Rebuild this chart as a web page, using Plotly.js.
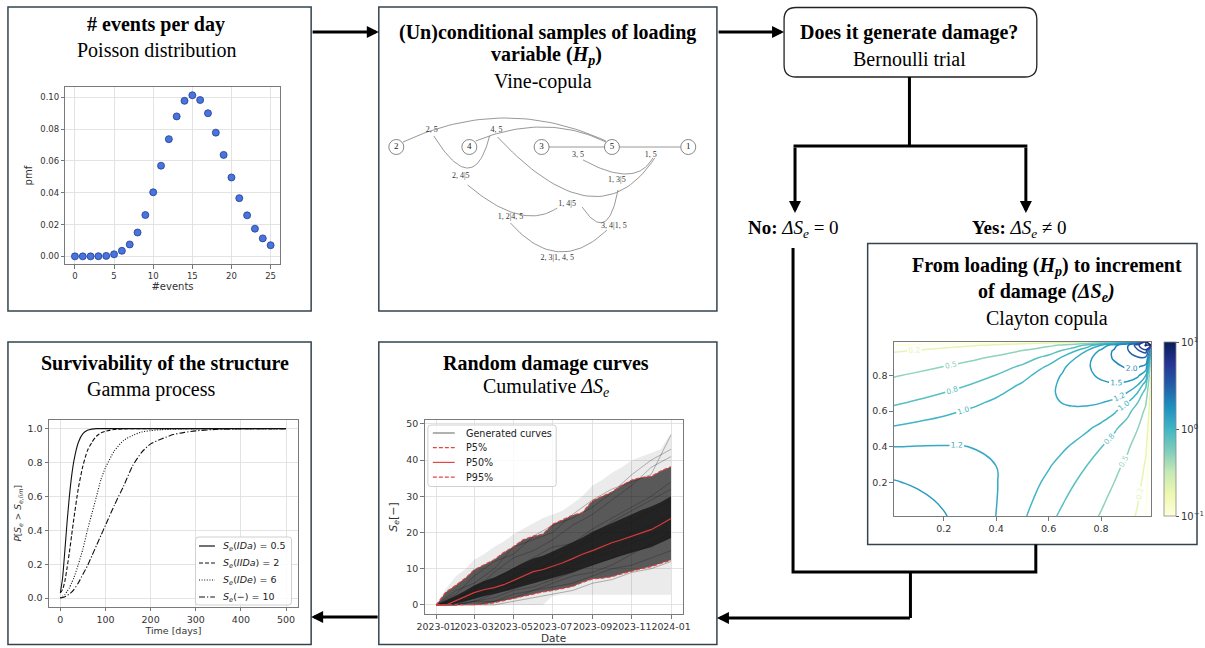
<!DOCTYPE html>
<html>
<head>
<meta charset="utf-8">
<script src="https://cdn.plot.ly/plotly-3.0.1.min.js"></script>
<style>
  html, body { margin: 0; padding: 0; background: #ffffff; }
  #fig { width: 1205px; height: 648px; }
</style>
</head>
<body>
<div id="fig"></div>
<script>
// ---------------- data ----------------
// Poisson pmf of the number of events per day
const poissonK = [0,1,2,3,4,5,6,7,8,9,10,11,12,13,14,15,16,17,18,19,20,21,22,23,24,25];
const poissonPmf = [0.0000,0.0000,0.0000,0.0001,0.0003,0.0013,0.0035,0.0075,0.0150,0.0260,0.0403,0.0570,0.0737,0.0880,0.0978,0.1013,0.0983,0.0900,0.0778,0.0638,0.0496,0.0366,0.0258,0.0174,0.0113,0.0070];

// Vine-copula structure (layout units inside the panel)
const vineNodeNames = ['2','4','3','5','1'];
const vineNodeX = [17.3, 90.7, 163.3, 234, 310.7];
const vineNodeY = [142, 142, 142, 142, 142];
const vineEdgeLabels = ['2, 5','4, 5','3, 5','1, 5','2, 4|5','1, 3|5','1, 4|5','1, 2|4, 5','3, 4|1, 5','2, 3|1, 4, 5'];
const vineLabelX = [53, 118, 200, 273, 82, 239, 189, 132, 236, 179];
const vineLabelY = [125, 125, 150, 150, 171, 175, 199, 212, 221, 253];
// each edge: start point, bezier control point, end point
const vineEdges = [
  [24,137, 126,89.5, 228,136],
  [97,136, 167,107.5, 228,137],
  [170,142, 198.5,142, 227,142],
  [241,142, 272,142, 303,142],
  [55,131, 95,195, 111,131],
  [205,155, 258,184, 275,153],
  [119,132, 220,239.5, 277,153],
  [89,180, 144,226.5, 179,203],
  [204,202, 230,240.5, 240,185],
  [132,218, 180,272, 229,225]
];

// Clayton copula density on a grid (upper triangle of a symmetric table)
const claytonGrid = [0.01,0.1,0.2,0.3,0.4,0.5,0.6,0.65,0.7,0.75,0.8,0.85,0.9,0.94,0.97,0.99];
const claytonTri = [
  [1.830,1.677,1.521,1.361,1.198,1.029,0.855,0.766,0.674,0.579,0.481,0.379,0.271,0.177,0.0996,0.0105],
  [1.571,1.458,1.337,1.205,1.063,0.907,0.823,0.735,0.641,0.541,0.433,0.314,0.209,0.119,0.0128],
  [1.386,1.303,1.207,1.094,0.962,0.887,0.804,0.713,0.613,0.500,0.370,0.250,0.145,0.0158],
  [1.259,1.199,1.121,1.018,0.955,0.883,0.798,0.700,0.584,0.443,0.306,0.180,0.0202],
  [1.178,1.139,1.074,1.029,0.971,0.899,0.808,0.692,0.542,0.385,0.232,0.0268],
  [1.144,1.126,1.104,1.069,1.017,0.942,0.835,0.679,0.499,0.310,0.0374],
  [1.165,1.174,1.173,1.155,1.111,1.028,0.879,0.678,0.440,0.0563],
  [1.203,1.224,1.229,1.211,1.150,1.015,0.807,0.539,0.0718],
  [1.270,1.306,1.321,1.295,1.187,0.980,0.678,0.0953],
  [1.379,1.439,1.465,1.407,1.219,0.882,0.126],
  [1.559,1.662,1.694,1.561,1.202,0.190],
  [1.878,2.068,2.077,1.748,0.316],
  [2.539,2.894,2.810,0.640],
  [3.879,4.599,1.530],
  [7.228,4.744],
  [100.0]
];
const claytonLevels = [0.1,0.2,0.5,0.8,1.0,1.2,1.5,2.0,3.0,4.0,5.0,7.0,10.0];
const claytonLabelled = [false,true,true,true,true,true,true,true,true,false,false,false,false];

// Survival probability of the gamma process
const survT = [0,5,10,15,20,25,30,40,50,60,70,80,90,100,120,140,160,180,200,225,250,275,300,350,400,500];
const survIDa = [0.03,0.12,0.28,0.45,0.60,0.72,0.81,0.92,0.97,0.99,0.997,1,1,1,1,1,1,1,1,1,1,1,1,1,1,1];
const survIIDa = [0.03,0.05,0.10,0.18,0.27,0.37,0.47,0.65,0.78,0.87,0.92,0.955,0.975,0.985,0.995,0.998,1,1,1,1,1,1,1,1,1,1];
const survIDe = [0,0.01,0.02,0.04,0.06,0.09,0.12,0.20,0.29,0.40,0.50,0.60,0.70,0.77,0.87,0.93,0.96,0.98,0.988,0.994,0.997,0.999,1,1,1,1];
const survNone = [0,0.003,0.008,0.015,0.025,0.035,0.05,0.09,0.14,0.19,0.25,0.31,0.37,0.43,0.55,0.66,0.78,0.86,0.91,0.94,0.965,0.978,0.987,0.996,0.999,1];
const survNames = ['<i>S</i><sub><i>e</i></sub>(<i>IDa</i>) = 0.5','<i>S</i><sub><i>e</i></sub>(<i>IIDa</i>) = 2','<i>S</i><sub><i>e</i></sub>(<i>IDe</i>) = 6','<i>S</i><sub><i>e</i></sub>(−) = 10'];

// Cumulative damage curves
const halfMonths = ['2023-01-01','2023-01-16','2023-02-01','2023-02-16','2023-03-01','2023-03-16','2023-04-01','2023-04-16','2023-05-01','2023-05-16','2023-06-01','2023-06-16','2023-07-01','2023-07-16','2023-08-01','2023-08-16','2023-09-01','2023-09-16','2023-10-01','2023-10-16','2023-11-01','2023-11-16','2023-12-01','2023-12-16','2024-01-01'];
const curvesMin = [0,0,0,0,0,0,0,0,0,0,0,0,2.5,2.8,2.8,2.8,2.8,2.8,2.8,2.8,2.8,2.8,2.8,2.8,2.8];
const curvesMax = [0,4.5,8,10,12.5,14,16,17.5,19.5,21,22.5,24,25,26,28,30,33,34.5,36.5,38,40,41,42,43,47.5];
const curvesQ25 = [0,0,0.3,1.0,1.8,2.4,3.0,3.6,4.4,5.2,6.0,6.6,7.4,8.2,9.0,10.0,11.0,11.8,12.8,13.6,14.4,15.2,16.0,17.2,18.5];
const curvesQ75 = [0,1.2,2.6,4.0,5.4,6.6,7.6,8.8,10.2,11.6,12.8,13.6,14.8,16.0,17.4,18.6,20.2,21.4,22.6,23.8,25.0,26.2,27.2,28.4,30.0];
const p5 = [0,0,0,0,0,0.2,0.6,1.2,1.8,2.5,3.2,3.6,4.0,4.5,5.1,6.2,7.2,7.4,7.8,8.6,9.4,10.0,10.6,11.4,12.4];
const p50 = [0,0,1.2,2.4,3.4,4.2,4.8,5.6,6.8,8.0,9.2,9.8,10.6,11.6,12.8,14.0,15.0,16.2,17.2,18.0,18.9,19.8,20.8,22.2,23.9];
const p95 = [0,3.5,5.5,7.5,9.7,11.0,12.5,14.5,16.1,18.0,19.0,19.6,22.3,23.5,24.8,25.5,28.8,30.0,31.2,33.0,34.5,35.2,35.5,37.0,38.2];
const months = ['2023-01-01','2023-02-01','2023-03-01','2023-04-01','2023-05-01','2023-06-01','2023-07-01','2023-08-01','2023-09-01','2023-10-01','2023-11-01','2023-12-01','2024-01-01'];
const sampleCurves = [
  [0,3,8,12,14,19,22,24,27,31,36,40,43],
  [0,2,4,9,13,15,18,22,25,29,33,38,41],
  [0,1,5,7,10,13,16,17,21,24,27,30,34],
  [0,0,2,5,7,9,12,15,18,21,23,26,29],
  [0,1,3,4,6,8,10,13,15,17,20,22,25],
  [0,0,1,3,5,7,8,11,13,15,17,19,22],
  [0,2,3,5,6,9,11,12,14,16,18,21,23],
  [0,0,1,2,4,5,7,9,11,13,15,16,19],
  [0,0,0,1,2,4,5,6,8,10,11,13,15],
  [0,0,0,0,1,2,3,4,6,7,9,10,12],
  [0,4,6,10,16,18,20,25,29,32,34,36,47],
  [0,1,2,4,8,11,14,16,19,23,26,29,32],
  [0,0,1,1,3,4,6,8,9,11,14,17,20]
];
const damageLegend = ['Generated curves', 'P5%', 'P50%', 'P95%'];

// ---------------- helpers ----------------
const W = 1205, H = 648;
const px = v => v / W;
const py = v => 1 - v / H;

const TICKFONT = {family: 'DejaVu Sans', size: 8.5, color: '#333'};
function sciAxis(extra) {
  return Object.assign({
    showline: true, mirror: true, linecolor: '#7a7a7a', linewidth: 1,
    showgrid: true, gridcolor: '#dcdcdc', gridwidth: 0.8, zeroline: false,
    ticks: 'outside', ticklen: 3.5, tickcolor: '#555', tickwidth: 0.8,
    tickfont: TICKFONT, autorange: false, fixedrange: true
  }, extra);
}

const YLGNBU = [[0,'rgb(255,255,217)'],[0.125,'rgb(237,248,177)'],[0.25,'rgb(199,233,180)'],[0.375,'rgb(127,205,187)'],[0.5,'rgb(65,182,196)'],[0.625,'rgb(29,145,192)'],[0.75,'rgb(34,94,168)'],[0.875,'rgb(37,52,148)'],[1,'rgb(8,29,88)']];
function scaleColor(t) {
  t = Math.max(0, Math.min(1, t));
  for (let i = 1; i < YLGNBU.length; i++) {
    if (t <= YLGNBU[i][0]) {
      const a = YLGNBU[i-1], b = YLGNBU[i];
      const f = (t - a[0]) / (b[0] - a[0]);
      const ca = a[1].match(/\d+/g).map(Number), cb = b[1].match(/\d+/g).map(Number);
      return 'rgb(' + ca.map((c, k) => Math.round(c + f * (cb[k] - c))).join(',') + ')';
    }
  }
  return YLGNBU[YLGNBU.length-1][1];
}

function bezier(e, n) {
  const xs = [], ys = [];
  for (let i = 0; i <= n; i++) {
    const t = i / n, u = 1 - t;
    xs.push(u*u*e[0] + 2*u*t*e[2] + t*t*e[4]);
    ys.push(u*u*e[1] + 2*u*t*e[3] + t*t*e[5]);
  }
  return {xs, ys};
}

// ---------------- traces ----------------
const traces = [];

// Poisson pmf
traces.push({
  type: 'scatter', mode: 'markers', x: poissonK, y: poissonPmf, xaxis: 'x', yaxis: 'y',
  marker: {size: 7, color: '#4a74dd', line: {color: '#1f3c96', width: 0.8}},
  showlegend: false, hoverinfo: 'skip'
});

// Vine-copula edges, nodes and labels
vineEdges.forEach(e => {
  const b = bezier(e, 40);
  traces.push({type: 'scatter', mode: 'lines', x: b.xs, y: b.ys, xaxis: 'x5', yaxis: 'y5',
    line: {color: '#7d7d7d', width: 0.8}, showlegend: false, hoverinfo: 'skip'});
});
traces.push({
  type: 'scatter', mode: 'markers+text', x: vineNodeX, y: vineNodeY, text: vineNodeNames,
  xaxis: 'x5', yaxis: 'y5', textposition: 'middle center',
  textfont: {family: 'Liberation Serif', size: 9, color: '#222'},
  marker: {size: 15, color: '#ffffff', line: {color: '#6a6a6a', width: 0.8}},
  showlegend: false, hoverinfo: 'skip'
});
traces.push({
  type: 'scatter', mode: 'text', x: vineLabelX, y: vineLabelY, text: vineEdgeLabels,
  xaxis: 'x5', yaxis: 'y5', textposition: 'middle center',
  textfont: {family: 'Liberation Serif', size: 8, color: '#333'},
  showlegend: false, hoverinfo: 'skip'
});

// Clayton copula contours
const claytonZ = claytonGrid.map((_, i) => claytonGrid.map((_, j) =>
  i <= j ? claytonTri[i][j - i] : claytonTri[j][i - j]));
claytonLevels.forEach((L, k) => {
  const col = scaleColor((Math.log10(L) + 1) / 2);
  traces.push({
    type: 'contour', x: claytonGrid, y: claytonGrid, z: claytonZ, xaxis: 'x6', yaxis: 'y6',
    autocontour: false,
    contours: {start: L, end: L, size: 1, coloring: 'none', showlabels: claytonLabelled[k],
      labelfont: {family: 'DejaVu Sans', size: 7.5, color: col}, labelformat: '.1f'},
    line: {color: col, width: 1.5, smoothing: 1.3},
    showscale: false, showlegend: false, hoverinfo: 'skip'
  });
});
// log colour bar of the density
traces.push({
  type: 'scatter', mode: 'markers', x: [null], y: [null], xaxis: 'x6', yaxis: 'y6',
  marker: {color: [0], cmin: -1, cmax: 1, colorscale: YLGNBU, showscale: true,
    colorbar: {x: px(1170), xanchor: 'left', y: py(429.2), yanchor: 'middle',
      len: 174, lenmode: 'pixels', thickness: 12, thicknessmode: 'pixels',
      xpad: 0, ypad: 0, outlinewidth: 0.8, outlinecolor: '#888',
      tickvals: [-1, 0, 1], ticktext: ['10<sup>−1</sup>', '10<sup>0</sup>', '10<sup>1</sup>'],
      ticks: 'outside', ticklen: 3, tickcolor: '#555',
      tickfont: {family: 'DejaVu Sans', size: 10, color: '#333'}}},
  showlegend: false, hoverinfo: 'skip'
});

// Survival curves
const survSeries = [survIDa, survIIDa, survIDe, survNone];
const survDash = ['solid', '4px,2px', '1px,1.6px', '6px,2px,1.2px,2px'];
survSeries.forEach((s, k) => {
  traces.push({
    type: 'scatter', mode: 'lines', x: survT, y: s, xaxis: 'x3', yaxis: 'y3',
    line: {color: '#111', width: 1.1, dash: survDash[k], shape: 'spline', smoothing: 0.6},
    showlegend: false, hoverinfo: 'skip'
  });
});

// Damage curves: envelopes of the generated set
function band(lo, hi, color) {
  traces.push({type: 'scatter', mode: 'lines', x: halfMonths, y: lo, xaxis: 'x4', yaxis: 'y4',
    line: {width: 0, color: 'rgba(0,0,0,0)'}, showlegend: false, hoverinfo: 'skip'});
  traces.push({type: 'scatter', mode: 'lines', x: halfMonths, y: hi, xaxis: 'x4', yaxis: 'y4',
    line: {width: 0, color: 'rgba(0,0,0,0)'}, fill: 'tonexty', fillcolor: color,
    showlegend: false, hoverinfo: 'skip'});
}
band(curvesMin, curvesMax, 'rgba(0,0,0,0.08)');
band(p5, p95, 'rgba(0,0,0,0.62)');
band(curvesQ25, curvesQ75, 'rgba(0,0,0,0.6)');
const sampleColor = 'rgba(30,30,30,0.35)';
sampleCurves.forEach(c => {
  traces.push({
    type: 'scatter', mode: 'lines', x: months, y: c, xaxis: 'x4', yaxis: 'y4',
    line: {color: sampleColor, width: 0.9}, showlegend: false, hoverinfo: 'skip'
  });
});
const pctColor = 'rgba(226,60,60,0.95)';
const pctDash = ['4px,2px', 'solid', '4px,2px'];
[p5, p50, p95].forEach((d, k) => {
  traces.push({
    type: 'scatter', mode: 'lines', x: halfMonths, y: d, xaxis: 'x4', yaxis: 'y4',
    line: {color: pctColor, width: 1.2, dash: pctDash[k]}, showlegend: false, hoverinfo: 'skip'
  });
});

// ---------------- layout ----------------
const BOX = '#34444f';
function rectShape(x0, y0, x1, y1) {
  return {type: 'rect', xref: 'paper', yref: 'paper', x0: px(x0), x1: px(x1), y0: py(y1), y1: py(y0),
    line: {color: BOX, width: 1.5}, fillcolor: 'rgba(0,0,0,0)', layer: 'below'};
}
function roundPath(x0, y0, x1, y1, r) {
  const P = (x, y) => px(x) + ',' + py(y);
  return 'M' + P(x0 + r, y0) + ' L' + P(x1 - r, y0) + ' Q' + P(x1, y0) + ' ' + P(x1, y0 + r) +
    ' L' + P(x1, y1 - r) + ' Q' + P(x1, y1) + ' ' + P(x1 - r, y1) +
    ' L' + P(x0 + r, y1) + ' Q' + P(x0, y1) + ' ' + P(x0, y1 - r) +
    ' L' + P(x0, y0 + r) + ' Q' + P(x0, y0) + ' ' + P(x0 + r, y0) + ' Z';
}
function polyline(pts) {
  const d = pts.map((p, i) => (i ? 'L' : 'M') + px(p[0]) + ',' + py(p[1])).join(' ');
  return {type: 'path', xref: 'paper', yref: 'paper', path: d, line: {color: '#000', width: 3}};
}
function arrow(tx, ty, hx, hy) {
  return {x: px(hx), y: py(hy), xref: 'paper', yref: 'paper', ax: tx - hx, ay: ty - hy,
    axref: 'pixel', ayref: 'pixel', showarrow: true, arrowhead: 2, arrowsize: 0.8,
    arrowwidth: 3, arrowcolor: '#000', text: ''};
}
function label(text, x, y, size, family) {
  return {text: text, x: px(x), y: py(y), xref: 'paper', yref: 'paper', showarrow: false,
    xanchor: 'center', yanchor: 'middle',
    font: {family: family || 'Liberation Serif', size: size || 20, color: '#000'}};
}
function legendText(text, x, y, size) {
  return {text: text, x: px(x), y: py(y), xref: 'paper', yref: 'paper', showarrow: false,
    xanchor: 'left', yanchor: 'middle',
    font: {family: 'DejaVu Sans', size: size, color: '#222'}};
}
function legendLine(x0, x1, y, color, dash) {
  return {type: 'line', xref: 'paper', yref: 'paper', x0: px(x0), x1: px(x1), y0: py(y), y1: py(y),
    line: {color: color, width: 1.2, dash: dash}};
}

const shapes = [
  rectShape(8, 7, 312.7, 311),
  rectShape(380.7, 7, 720.5, 311),
  rectShape(872, 243.5, 1203, 544.5),
  rectShape(8, 342, 312.7, 644.5),
  rectShape(380.7, 342, 720.5, 644.5),
  {type: 'path', xref: 'paper', yref: 'paper', path: roundPath(788, 7.5, 1042, 77, 12), line: {color: '#222', width: 1.3}},
  polyline([[914, 77], [914, 146]]),
  polyline([[797.5, 146], [1032.5, 146]]),
  polyline([[797, 248], [797, 572], [1041, 572], [1041, 544.5]]),
  polyline([[915, 572], [915, 618]]),
  // legend frames
  {type: 'path', xref: 'paper', yref: 'paper', path: roundPath(196.5, 537, 293, 605, 3),
    line: {color: '#d0d0d0', width: 1}, fillcolor: 'rgba(255,255,255,0.85)'},
  {type: 'path', xref: 'paper', yref: 'paper', path: roundPath(430, 425, 559, 486.5, 3),
    line: {color: '#d0d0d0', width: 1}, fillcolor: 'rgba(255,255,255,0.8)'}
];
const survRows = [546, 563, 580, 597];
survRows.forEach((y, k) => shapes.push(legendLine(200, 216, y, '#111', survDash[k])));
const dmgRows = [433, 447.7, 462.4, 477.1];
const dmgColors = ['rgba(80,80,80,0.75)', pctColor, pctColor, pctColor];
const dmgDash = ['solid', '4px,2px', 'solid', '4px,2px'];
dmgRows.forEach((y, k) => shapes.push(legendLine(435, 457, y, dmgColors[k], dmgDash[k])));

const annotations = [
  label('<b># events per day</b>', 157, 25),
  label('Poisson distribution', 157, 50),
  label('<b>(Un)conditional samples of loading</b>', 550, 32),
  label('<b>variable (<i>H</i><sub><i>p</i></sub>)</b>', 549, 56),
  label('Vine-copula', 546, 81),
  label('<b>Does it generate damage?</b>', 914, 32),
  label('Bernoulli trial', 914, 59),
  label('<b>No:</b> <i>ΔS</i><sub><i>e</i></sub> = 0', 797, 229, 19),
  label('<b>Yes:</b> <i>ΔS</i><sub><i>e</i></sub> ≠ 0', 1025, 229, 19),
  label('<b>From loading (<i>H</i><sub><i>p</i></sub>) to increment</b>', 1052, 267),
  label('<b>of damage <i>(ΔS</i><sub><i>e</i></sub><i>)</i></b>', 1052, 292),
  label('Clayton copula', 1052, 318),
  label('<b>Survivability of the structure</b>', 166, 363),
  label('Gamma process', 152, 389),
  label('<b>Random damage curves</b>', 549, 363),
  label('Cumulative <i>ΔS</i><sub><i>e</i></sub>', 549, 387),
  arrow(313, 32, 380.7, 32),
  arrow(721, 32, 788, 32),
  arrow(799, 146, 799, 213),
  arrow(1031, 146, 1031, 213),
  arrow(915, 618, 720.5, 618),
  arrow(380.7, 617, 312.7, 617)
];
survRows.forEach((y, k) => annotations.push(legendText(survNames[k], 222, y, 9.5)));
dmgRows.forEach((y, k) => annotations.push(legendText(damageLegend[k], 466, y, 9.6)));

const layout = {
  width: W, height: H, margin: {l: 0, r: 0, t: 0, b: 0, pad: 0},
  paper_bgcolor: '#ffffff', plot_bgcolor: 'rgba(0,0,0,0)',
  font: {family: 'DejaVu Sans', color: '#333'},
  showlegend: false,
  // Poisson panel
  xaxis: sciAxis({domain: [px(65.7), px(281)], range: [-1.22, 26.15], dtick: 5, tick0: 0, anchor: 'y',
    title: {text: '#events', font: {family: 'DejaVu Sans', size: 10, color: '#333'}, standoff: 2}}),
  yaxis: sciAxis({domain: [py(264), py(87.3)], range: [-0.0048, 0.1063], dtick: 0.02, tick0: 0,
    tickformat: '.2f', anchor: 'x',
    title: {text: 'pmf', font: {family: 'DejaVu Sans', size: 10, color: '#333'}, standoff: 5}}),
  // Survivability panel
  xaxis3: sciAxis({domain: [px(49.3), px(299.3)], range: [-25, 526], dtick: 100, tick0: 0, anchor: 'y3',
    tickfont: {family: 'DejaVu Sans', size: 9.5, color: '#333'},
    title: {text: 'Time [days]', font: {family: 'DejaVu Sans', size: 9.5, color: '#333'}, standoff: 2}}),
  yaxis3: sciAxis({domain: [py(606.7), py(420)], range: [-0.051, 1.051], dtick: 0.2, tick0: 0,
    tickformat: '.1f', anchor: 'x3', tickfont: {family: 'DejaVu Sans', size: 9.5, color: '#333'},
    title: {text: '<i>P</i>[<i>S</i><sub><i>e</i></sub> > <i>S</i><sub><i>e,lim</i></sub>]',
      font: {family: 'DejaVu Sans', size: 9, color: '#333'}, standoff: 4}}),
  // Random damage curves panel
  xaxis4: sciAxis({domain: [px(426.7), px(686)], type: 'date', range: ['2022-12-14', '2024-01-19'],
    dtick: 'M2', tick0: '2023-01-01', tickformat: '%Y-%m', tickangle: 0, anchor: 'y4',
    tickfont: {family: 'DejaVu Sans', size: 9.4, color: '#333'},
    title: {text: 'Date', font: {family: 'DejaVu Sans', size: 10.5, color: '#333'}, standoff: 2}}),
  yaxis4: sciAxis({domain: [py(614), py(420)], range: [-2.5, 51.1], dtick: 10, tick0: 0, anchor: 'x4',
    tickfont: {family: 'DejaVu Sans', size: 9.4, color: '#333'},
    title: {text: '<i>S</i><sub><i>e</i></sub>[−]', font: {family: 'DejaVu Sans', size: 11, color: '#333'}, standoff: 6}}),
  // Vine-copula drawing area
  xaxis5: {domain: [px(381), px(720)], range: [0, 339], visible: false, fixedrange: true, anchor: 'y5'},
  yaxis5: {domain: [py(311), py(5)], range: [306, 0], visible: false, fixedrange: true, anchor: 'x5'},
  // Clayton copula panel
  xaxis6: sciAxis({domain: [px(898.3), px(1156.7)], range: [0.01, 0.99], tickvals: [0.2, 0.4, 0.6, 0.8],
    tickformat: '.1f', showgrid: false, anchor: 'y6', tickfont: {family: 'DejaVu Sans', size: 9.5, color: '#333'}}),
  yaxis6: sciAxis({domain: [py(516), py(341.7)], range: [0.01, 0.99], tickvals: [0.2, 0.4, 0.6, 0.8],
    tickformat: '.1f', showgrid: false, anchor: 'x6', tickfont: {family: 'DejaVu Sans', size: 9.5, color: '#333'}}),
  shapes: shapes,
  annotations: annotations
};

Plotly.newPlot('fig', traces, layout, {staticPlot: true, displayModeBar: false});
</script>
</body>
</html>
